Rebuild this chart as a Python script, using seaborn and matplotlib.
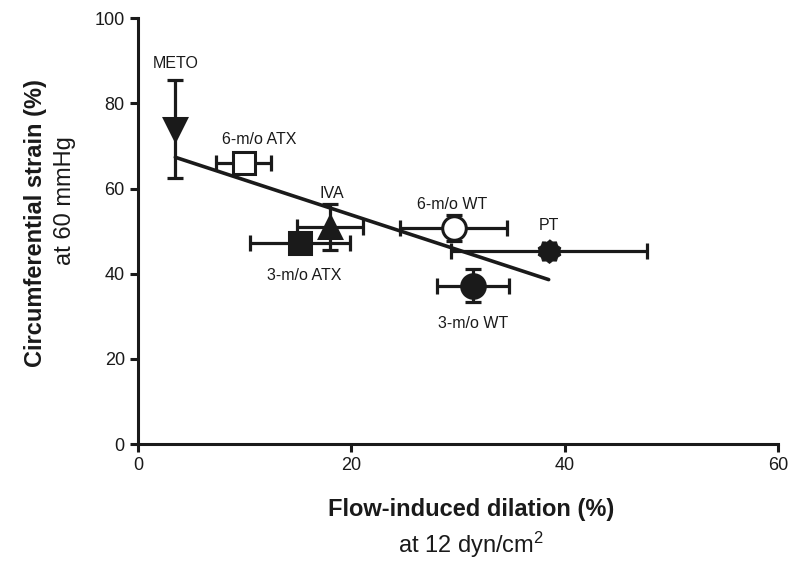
import numpy as np
import pandas as pd
import matplotlib
matplotlib.use("Agg")
import matplotlib.pyplot as plt
import seaborn as sns

# values
groups = ['METO', '6-m/o ATX', 'IVA', '3-m/o ATX', '6-m/o WT', '3-m/o WT', 'PT']
fid = [3.5, 9.9, 18.0, 15.2, 29.6, 31.4, 38.5]          # flow-induced dilation (%)
fid_err = [0.0, 2.6, 3.1, 4.7, 5.0, 3.4, 9.2]
strain = [74.0, 66.0, 51.0, 47.2, 50.8, 37.2, 45.4]     # circumferential strain (%)
strain_err = [11.6, 1.0, 5.4, 1.0, 3.0, 3.8, 1.0]

df = pd.DataFrame({'group': groups, 'fid': fid, 'fid_err': fid_err,
                   'strain': strain, 'strain_err': strain_err})

# serrated blob for PT
n_pts = 20
ang = np.linspace(0, 2 * np.pi, n_pts + 1)[:-1]
rad = np.where(np.arange(n_pts) % 2 == 0, 1.0, 0.84)
pt_marker = list(zip(rad * np.sin(ang), rad * np.cos(ang)))

style = {
    'METO':      ('v', 'full', (0, 47)),
    '6-m/o ATX': ('s', 'open', (11, 17)),
    'IVA':       ('^', 'full', (1, 24)),
    '3-m/o ATX': ('s', 'full', (3, -23)),
    '6-m/o WT':  ('o', 'open', (-1, 17)),
    '3-m/o WT':  ('o', 'full', (0, -27)),
    'PT':        (pt_marker, 'full', (0, 18)),
}

sns.set_style("ticks")
plt.rcParams['font.family'] = ['Liberation Sans', 'DejaVu Sans']
plt.rcParams['mathtext.default'] = 'regular'
ink = '#1a1a1a'

fig = plt.figure(figsize=(8, 5.7), dpi=100)
ax = fig.add_axes([0.1725, 0.221, 0.8, 0.747])

sns.regplot(data=df, x='fid', y='strain', scatter=False, ci=None, ax=ax,
            line_kws={'color': ink, 'lw': 2.6, 'zorder': 1})

for _, r in df.iterrows():
    m, fill, off = style[r['group']]
    ax.errorbar(r['fid'], r['strain'], xerr=r['fid_err'], yerr=r['strain_err'],
                fmt='none', ecolor=ink, elinewidth=2.3, capsize=6, capthick=2.3,
                zorder=2)
    is_pt = r['group'] == 'PT'
    ax.plot(r['fid'], r['strain'], marker=m,
            ms=17 if (m == 'o' or is_pt) else 16,
            mfc=ink if fill == 'full' else 'white', mec=ink,
            mew=0.8 if is_pt else 2.2, ls='none', zorder=3)
    ax.annotate(r['group'], (r['fid'], r['strain']), xytext=off,
                textcoords='offset points', ha='center', va='center',
                fontsize=11.5, color=ink)

ax.set_xlim(0, 60)
ax.set_ylim(0, 100)
ax.set_xticks([0, 20, 40, 60])
ax.set_yticks([0, 20, 40, 60, 80, 100])
ax.set_xlabel('')
ax.set_ylabel('')
sns.despine(ax=ax)
for s in ['left', 'bottom']:
    ax.spines[s].set_linewidth(2.2)
    ax.spines[s].set_color(ink)
ax.tick_params(length=5.5, width=2.2, color=ink, labelsize=13, labelcolor=ink, pad=4)

fig.text(0.589, 0.106, 'Flow-induced dilation (%)', ha='center', va='center',
         fontsize=17, fontweight='bold', color=ink)
fig.text(0.589, 0.044, r'at 12 dyn/cm$^2$', ha='center', va='center',
         fontsize=17, color=ink)
fig.text(0.044, 0.609, 'Circumferential strain (%)', ha='center', va='center',
         rotation=90, fontsize=17, fontweight='bold', color=ink)
fig.text(0.081, 0.649, 'at 60 mmHg', ha='center', va='center',
         rotation=90, fontsize=17, color=ink)

fig.savefig('out.png', dpi=100)
